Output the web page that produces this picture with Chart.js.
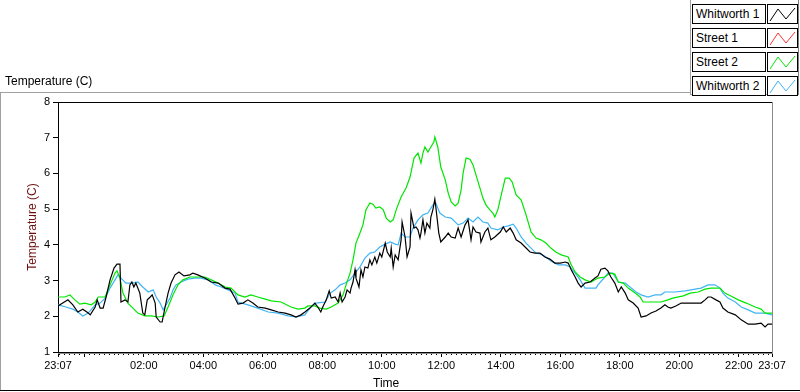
<!DOCTYPE html>
<html>
<head>
<meta charset="utf-8">
<script src="https://cdn.jsdelivr.net/npm/chart.js@4/dist/chart.umd.min.js"></script>
<style>
  body { margin: 0; background: #fff; font-family: "Liberation Sans", Arial, sans-serif; }
  #wrap { position: relative; width: 800px; height: 392px; overflow: hidden; }
  #grafico { position: absolute; left: 0; top: 0; }
  .abs { position: absolute; }
  .lab { position: absolute; left: 692px; width: 69px; height: 18px; border: 1px solid #000;
         font-size: 12px; line-height: 18px; padding-left: 3px; box-sizing: content-box; background: #fff; }
  .ico { position: absolute; left: 767px; width: 29px; height: 18px; border: 1px solid #000; background: #fff; }
</style>
</head>
<body>
<div id="wrap">
  <canvas id="grafico" width="800" height="392"></canvas>

  <!-- moldura externa -->
  <div class="abs" style="left:0;top:92px;width:690px;height:0;border-top:1px solid #a0a0a0;"></div>
  <div class="abs" style="left:0;top:92px;width:0;height:298px;border-left:1px solid #a0a0a0;"></div>
  <div class="abs" style="left:0;top:390px;width:800px;height:0;border-top:1px solid #000;"></div>

  <!-- moldura da legenda -->
  <div class="abs" style="left:690px;top:0;width:107px;height:94px;border-left:1px solid #a0a0a0;border-right:1px solid #808080;border-bottom:1px solid #a0a0a0;"></div>

  <div class="abs" style="left:5px;top:74px;font-size:12px;color:#000;">Temperature (C)</div>
  <div class="abs" style="left:373px;top:376px;font-size:12px;color:#000;">Time</div>

  <div id="legenda"></div>
</div>

<script>
// ===== DADOS (minutos depois de 23:07, temperatura em C) =====
const seriesNames = ["Whitworth 1", "Street 1", "Street 2", "Whitworth 2"];
const seriesColors = ["#000000", "#ff3030", "#00e600", "#40b4f4"];

const whitworth1 = [
  [0,2.29],[20,2.46],[30,2.32],[40,2.12],[50,2.2],[61,2.09],[65,2.04],[75,2.26],[79,2.46],[85,2.23],
  [91,2.23],[97,2.54],[105,3.02],[113,3.35],[119,3.46],[125,3.46],[127,2.4],[135,2.46],[141,2.4],[145,2.88],
  [149,2.96],[153,2.82],[157,2.93],[165,2.65],[171,2.09],[175,2.04],[180,2.46],[186,2.54],[190,2.6],[196,2.37],
  [198,1.98],[206,1.84],[210,1.84],[216,2.26],[222,2.65],[228,2.93],[236,3.16],[244,3.24],[254,3.13],[266,3.16],
  [272,3.21],[282,3.16],[296,3.07],[309,2.96],[323,2.93],[337,2.79],[347,2.76],[357,2.51],[363,2.34],[373,2.37],
  [383,2.46],[393,2.37],[403,2.26],[418,2.23],[430,2.18],[444,2.12],[458,2.09],[470,2.04],[480,1.98],[490,2.04],
  [498,2.12],[508,2.23],[518,2.37],[524,2.26],[530,2.12],[534,2.26],[541,2.46],[547,2.71],[551,2.51],[559,2.54],
  [565,2.4],[569,2.65],[573,2.4],[579,2.54],[583,2.74],[589,2.65],[591,2.79],[595,2.96],[599,3.3],[601,3.07],
  [607,2.82],[611,3.3],[615,3.1],[619,3.38],[625,3.35],[629,3.58],[633,3.44],[639,3.66],[643,3.49],[649,3.77],
  [653,3.66],[660,4.05],[664,3.8],[670,3.66],[672,3.91],[676,3.38],[680,3.72],[686,3.58],[692,4.14],[694,4.64],
  [700,4.22],[704,3.66],[710,3.94],[712,4.89],[718,4.47],[722,4.5],[726,4.42],[730,4.19],[732,4.33],[736,4.7],
  [740,4.33],[744,4.61],[750,4.47],[752,4.78],[756,4.98],[760,5.28],[762,5.06],[768,4.33],[772,4.08],[781,4.22],
  [787,4.33],[793,4.22],[801,4.19],[807,4.47],[813,4.22],[821,4.56],[827,4.7],[833,4.14],[837,4.5],[843,4.36],
  [851,4.33],[853,4.08],[861,4.36],[867,4.47],[873,4.14],[881,4.22],[892,4.36],[898,4.5],[904,4.36],[912,4.47],
  [918,4.33],[924,4.14],[934,4.05],[942,3.94],[952,3.8],[962,3.77],[972,3.77],[982,3.66],[992,3.6],[1002,3.49],
  [1013,3.49],[1023,3.52],[1029,3.49],[1035,3.3],[1043,3.1],[1049,2.93],[1055,2.82],[1063,2.93],[1073,2.96],[1083,3.07],
  [1089,3.13],[1095,3.32],[1103,3.35],[1109,3.27],[1115,3.1],[1123,2.93],[1130,2.68],[1136,2.82],[1144,2.65],[1150,2.46],
  [1160,2.37],[1170,2.23],[1176,1.98],[1186,2.01],[1196,2.09],[1206,2.15],[1216,2.23],[1224,2.32],[1230,2.26],[1236,2.23],
  [1246,2.29],[1257,2.37],[1271,2.37],[1285,2.37],[1297,2.37],[1305,2.46],[1311,2.54],[1317,2.54],[1327,2.46],[1335,2.4],
  [1341,2.23],[1351,2.12],[1366,2.04],[1378,1.9],[1392,1.78],[1406,1.78],[1418,1.81],[1426,1.7],[1432,1.78],[1440,1.78]
];

const street1 = [];

const street2 = [
  [0,2.54],[14,2.54],[24,2.6],[34,2.46],[44,2.34],[54,2.37],[67,2.32],[75,2.4],[81,2.54],[95,2.54],
  [105,2.88],[115,3.21],[119,3.27],[125,3.07],[131,2.65],[141,2.37],[151,2.23],[161,2.09],[175,2.01],[188,2.01],
  [202,1.98],[214,2.01],[222,2.26],[232,2.6],[242,2.88],[252,3.02],[266,3.1],[282,3.1],[296,3.1],[309,3.02],
  [323,2.93],[337,2.82],[349,2.79],[363,2.6],[377,2.54],[389,2.6],[403,2.54],[418,2.48],[430,2.43],[450,2.4],
  [470,2.26],[484,2.2],[498,2.23],[504,2.29],[518,2.29],[528,2.23],[541,2.2],[551,2.26],[565,2.37],[575,2.6],
  [581,2.88],[589,3.21],[595,3.58],[601,4.05],[609,4.33],[615,4.56],[621,4.98],[629,5.17],[635,5.14],[641,5.03],
  [649,5.06],[656,4.98],[662,4.75],[670,4.64],[676,4.7],[682,4.98],[692,5.34],[702,5.59],[710,5.9],[718,6.43],
  [726,6.57],[732,6.29],[736,6.57],[740,6.74],[746,6.6],[752,6.74],[758,6.88],[760,7.02],[766,6.74],[772,6.18],
  [781,5.82],[787,5.45],[793,5.2],[801,5.09],[807,5.17],[813,5.54],[817,6.01],[823,6.43],[831,6.4],[837,6.24],
  [843,5.96],[851,5.59],[857,5.31],[863,5.12],[871,4.98],[877,4.89],[881,4.78],[887,4.98],[894,5.4],[902,5.87],
  [910,5.87],[916,5.76],[924,5.4],[934,5.26],[944,4.84],[954,4.36],[964,4.19],[974,4.14],[984,4.05],[994,3.91],
  [1004,3.8],[1015,3.72],[1029,3.66],[1035,3.44],[1043,3.24],[1053,3.1],[1063,3.02],[1075,2.96],[1089,3.07],[1103,3.1],
  [1113,3.21],[1123,3.18],[1130,2.96],[1140,2.93],[1150,2.79],[1164,2.65],[1174,2.54],[1180,2.4],[1196,2.4],[1216,2.4],
  [1230,2.46],[1240,2.51],[1261,2.57],[1275,2.65],[1291,2.68],[1305,2.76],[1317,2.79],[1335,2.79],[1345,2.65],[1357,2.57],
  [1372,2.46],[1388,2.37],[1406,2.26],[1418,2.2],[1426,2.09],[1440,2.09]
];

const whitworth2 = [
  [0,2.32],[16,2.26],[30,2.2],[40,2.12],[50,2.01],[61,2.09],[75,2.32],[85,2.37],[95,2.51],[105,2.79],
  [115,3.02],[121,3.16],[127,3.07],[137,2.93],[151,2.93],[161,2.96],[171,2.82],[182,2.68],[192,2.74],[198,2.54],
  [206,2.37],[212,2.18],[218,2.32],[226,2.51],[232,2.74],[238,2.88],[248,2.96],[262,3.04],[276,3.07],[288,3.07],
  [303,3.02],[317,2.88],[329,2.82],[343,2.74],[357,2.65],[363,2.4],[383,2.32],[403,2.23],[424,2.12],[444,2.09],
  [464,2.01],[480,1.98],[498,2.04],[508,2.23],[520,2.37],[539,2.4],[549,2.65],[559,2.74],[569,2.88],[579,2.93],
  [589,3.02],[599,3.21],[609,3.38],[619,3.63],[629,3.77],[639,3.8],[649,3.94],[660,4.02],[670,4.08],[680,4.02],
  [686,4.0],[692,4.33],[700,4.22],[710,4.22],[716,4.47],[726,4.7],[736,4.84],[746,4.89],[756,5.12],[762,5.17],
  [770,4.89],[781,4.78],[793,4.75],[807,4.56],[817,4.61],[827,4.75],[837,4.64],[847,4.78],[857,4.64],[867,4.61],
  [873,4.47],[887,4.42],[898,4.5],[908,4.53],[918,4.58],[924,4.47],[934,4.22],[944,4.05],[954,3.91],[964,3.77],
  [974,3.74],[984,3.66],[994,3.55],[1009,3.44],[1023,3.44],[1033,3.38],[1043,3.21],[1053,3.02],[1063,2.79],[1075,2.79],
  [1085,2.79],[1089,2.88],[1103,3.1],[1109,3.21],[1119,3.21],[1130,2.96],[1144,2.93],[1156,2.79],[1166,2.68],[1176,2.6],
  [1190,2.54],[1204,2.6],[1216,2.6],[1224,2.68],[1244,2.68],[1265,2.71],[1285,2.76],[1297,2.79],[1311,2.88],[1325,2.88],
  [1335,2.79],[1341,2.65],[1351,2.51],[1366,2.4],[1378,2.26],[1392,2.18],[1406,2.09],[1426,2.09],[1440,2.04]
];

// ===== EIXOS =====
const xMajorTicks = [0, 53, 173, 293, 413, 533, 653, 773, 893, 1013, 1133, 1253, 1373, 1440];
const xMajorLabels = ["23:07", "", "02:00", "04:00", "06:00", "08:00", "10:00", "12:00", "14:00", "16:00", "18:00", "20:00", "22:00", "23:07"];
const xMinorStep = 10;   // minutos
const xMinorStart = 3;   // 23:10
const yTicks = [1, 2, 3, 4, 5, 6, 7, 8];

const minorTicks = [];
for (let m = xMinorStart; m <= 1440; m += xMinorStep) minorTicks.push(m);

const allSeries = [whitworth1, street1, street2, whitworth2];

// ===== LEGENDA (HTML) =====
const leg = document.getElementById("legenda");
seriesNames.forEach((nome, i) => {
    const top = 4 + i * 24;
    const lab = document.createElement("div");
    lab.className = "lab";
    lab.style.top = top + "px";
    lab.textContent = nome;
    leg.appendChild(lab);

    const ico = document.createElement("div");
    ico.className = "ico";
    ico.style.top = top + "px";
    ico.innerHTML = '<svg width="29" height="18"><polyline points="2,16 10,4 18,14 27,3" fill="none" stroke="' +
        seriesColors[i] + '" stroke-width="1"/></svg>';
    leg.appendChild(ico);
});

// moldura da area do grafico
const molduraPlot = {
    id: "molduraPlot",
    afterDraw(chart) {
        const { ctx, chartArea: a } = chart;
        ctx.save();
        ctx.lineWidth = 1;
        ctx.strokeStyle = "#000";
        ctx.beginPath();
        ctx.moveTo(a.left, a.top + 0.5);
        ctx.lineTo(a.right, a.top + 0.5);
        ctx.stroke();
        ctx.strokeStyle = "#8a8a8a";
        ctx.beginPath();
        ctx.moveTo(a.right + 0.5, a.top);
        ctx.lineTo(a.right + 0.5, a.bottom + 1);
        ctx.moveTo(a.left, a.bottom + 1.5);
        ctx.lineTo(a.right + 1, a.bottom + 1.5);
        ctx.stroke();
        ctx.restore();
    }
};

const font11 = { family: '"Liberation Sans", Arial, sans-serif', size: 11 };

new Chart(document.getElementById("grafico").getContext("2d"), {
    type: "line",
    data: {
        datasets: allSeries.map((s, i) => ({
            label: seriesNames[i],
            data: s.map(p => ({ x: p[0], y: p[1] })),
            borderColor: seriesColors[i],
            borderWidth: 1.2,
            pointRadius: 0,
            tension: 0,
            fill: false
        }))
    },
    options: {
        responsive: false,
        animation: false,
        devicePixelRatio: 1,
        layout: { padding: { top: 102, right: 28, left: 0, bottom: 0 } },
        plugins: { legend: { display: false }, tooltip: { enabled: false } },
        scales: {
            x: {
                type: "linear",
                min: 0, max: 1440,
                weight: 1,
                afterFit: s => { s.height = 40; },
                afterBuildTicks: s => { s.ticks = xMajorTicks.map(v => ({ value: v })); },
                ticks: {
                    autoSkip: false, maxRotation: 0, padding: 2,
                    color: "#000", font: font11,
                    callback: (v, i) => xMajorLabels[i]
                },
                grid: { drawOnChartArea: false, tickLength: 5, color: "#000" },
                border: { display: true, color: "#000" }
            },
            xMinor: {
                type: "linear",
                position: "bottom",
                min: 0, max: 1440,
                weight: 0,
                afterFit: s => { s.height = 0; },
                afterBuildTicks: s => { s.ticks = minorTicks.map(v => ({ value: v })); },
                ticks: { display: false },
                grid: { drawOnChartArea: false, tickLength: 3, color: "#000" },
                border: { display: false }
            },
            y: {
                min: 1, max: 8,
                afterFit: s => { s.width = 58; },
                afterBuildTicks: s => { s.ticks = yTicks.map(v => ({ value: v })); },
                ticks: { color: "#000", font: font11, padding: 3 },
                grid: { drawOnChartArea: false, tickLength: 5, color: "#000" },
                border: { display: true, color: "#000" },
                title: {
                    display: true,
                    text: "Temperature (C)",
                    color: "#6e0f0f",
                    font: { family: '"Liberation Sans", Arial, sans-serif', size: 12 },
                    padding: { top: 25, bottom: 0 }
                }
            }
        }
    },
    plugins: [molduraPlot]
});
</script>
</body>
</html>
